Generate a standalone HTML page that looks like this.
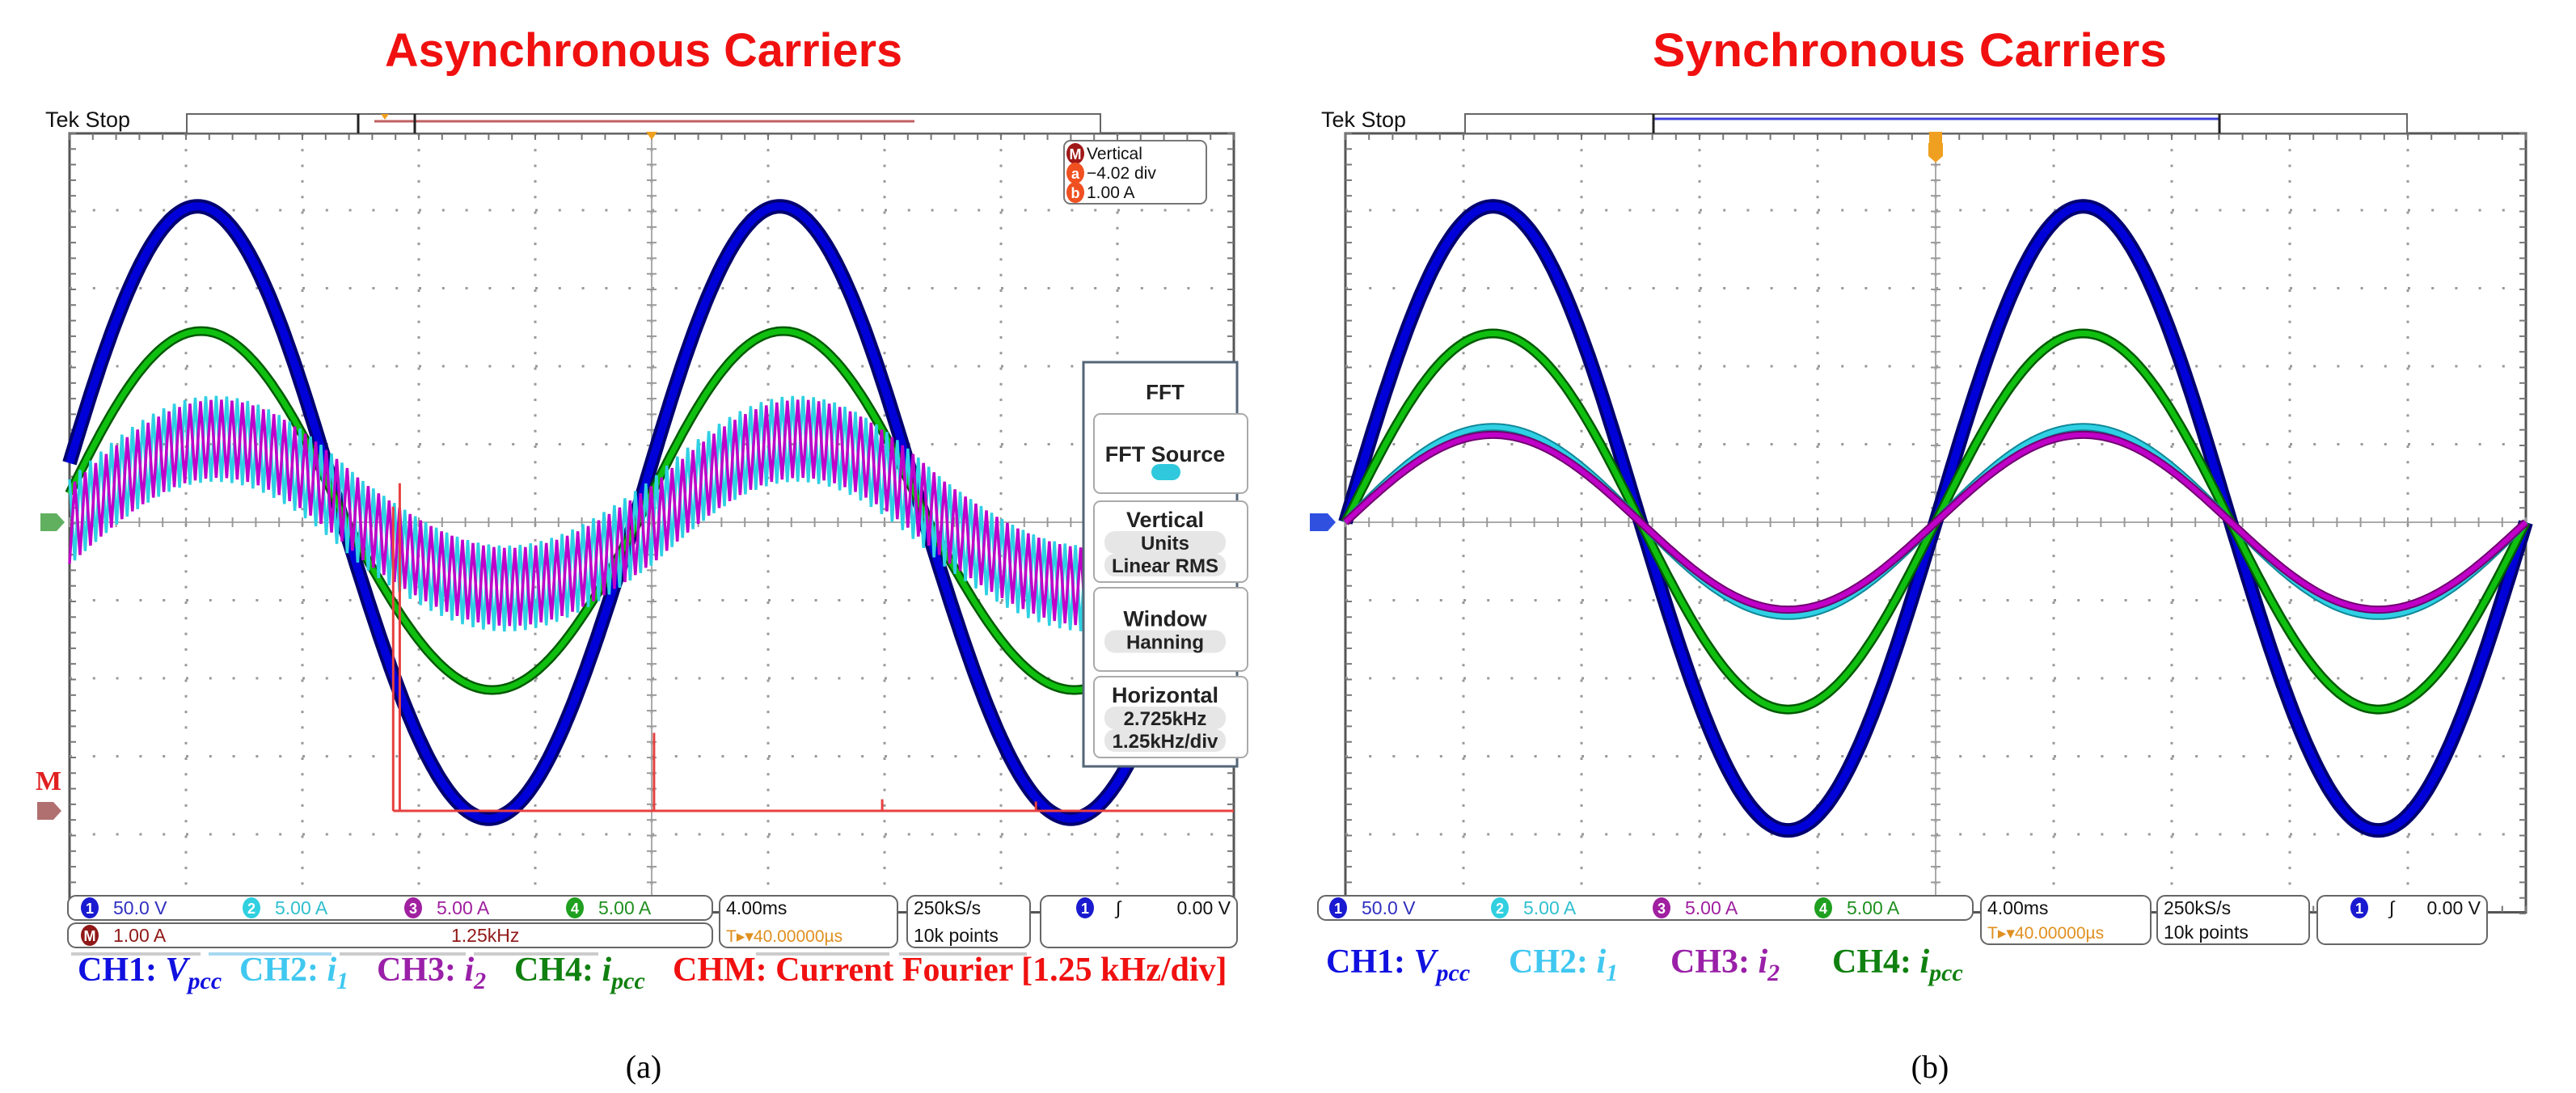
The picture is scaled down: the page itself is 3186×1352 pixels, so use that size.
<!DOCTYPE html>
<html><head><meta charset="utf-8"><style>
html,body{margin:0;padding:0;background:#fff;}
svg{display:block;font-family:"Liberation Sans",sans-serif;}
</style></head><body>
<svg id="fig" xmlns="http://www.w3.org/2000/svg" width="3186" height="1352" viewBox="0 0 3186 1352">
<rect x="0" y="0" width="3186" height="1352" fill="#fff"/>
<text x="796" y="82" font-size="58" font-weight="bold" fill="#f01010" text-anchor="middle" textLength="640" lengthAdjust="spacingAndGlyphs">Asynchronous Carriers</text>
<text x="2362" y="82" font-size="58" font-weight="bold" fill="#f01010" text-anchor="middle" textLength="636" lengthAdjust="spacingAndGlyphs">Synchronous Carriers</text>
<g id="panelA"></g>
<g id="panelB"></g>
<text x="796" y="1333" font-size="40" font-family="Liberation Serif,serif" text-anchor="middle">(a)</text>
<text x="2387" y="1333" font-size="40" font-family="Liberation Serif,serif" text-anchor="middle">(b)</text>
</svg>
<script>
// ---- data (in divisions) ----
const channels = ['CH1','CH2','CH3','CH4'];
const periodDiv = 5;
const asyncPosAmp = [4.05, 1.07, 1.07, 2.45];
const asyncNegAmp = [3.8, 0.85, 0.83, 2.15];
const asyncPhase = [-0.15, 0.0, 0.03, -0.12];
const asyncRipple = [0.0, 0.55, 0.5, 0.0];
const syncPosAmp = [4.05, 1.22, 1.12, 2.42];
const syncNegAmp = [3.95, 1.2, 1.12, 2.4];
const syncPhase = [0, 0, 0, 0];
const fftFreqKHz = [-0.05, 0.02, 2.75, 5.2, 6.85];
const fftAmpDiv = [3.9, 4.2, 1.0, 0.15, 0.12];
const fftCenterKHz = 2.725;
const fftKHzPerDiv = 1.25;
const fftBaseDiv = -3.7;

const NS = 'http://www.w3.org/2000/svg';
const colors = ['#0000d8','#2fd0e4','#c000c8','#10c010'];
const edge = ['#000070','#108898','#700070','#005a00'];
function mk(tag, attrs, parent){const e=document.createElementNS(NS,tag);for(const k in attrs)e.setAttribute(k,attrs[k]);parent.appendChild(e);return e;}

const PA = {x0:86, div:144, cy:646, ydiv:96.5, top:165, g:document.getElementById('panelA')};
const PB = {x0:1664, div:146, cy:646, ydiv:96.5, top:165, g:document.getElementById('panelB')};
function X(p,d){return p.x0+d*p.div;}
function Y(p,v){return p.cy-v*p.ydiv;}

function grid(p){
  const g=p.g, w=10*p.div, bottom=p.cy+5*p.ydiv;
  const fr=mk('rect',{x:p.x0,y:p.top,width:w,height:bottom-p.top,fill:'none',stroke:'#555','stroke-width':3},g);
  
  
  for(let i=1;i<10;i++){
    const l=mk('line',{x1:X(p,i),x2:X(p,i),y1:p.top,y2:bottom,stroke:'#999','stroke-width':3,'stroke-dasharray':'3 '+(p.ydiv/5-3)},g);
    
    
  }
  for(let j=-4;j<=4;j++){
    if(j===0)continue;
    const l=mk('line',{x1:p.x0,x2:p.x0+w,y1:Y(p,j),y2:Y(p,j),stroke:'#999','stroke-width':3,'stroke-dasharray':'3 '+(p.div/5-3)},g);
    
    
  }
  const ax=mk('line',{x1:p.x0,x2:p.x0+w,y1:p.cy,y2:p.cy,stroke:'#aaa','stroke-width':2},g);
  
  
  const ay=mk('line',{x1:X(p,5),x2:X(p,5),y1:p.top,y2:bottom,stroke:'#aaa','stroke-width':2},g);
  
  
  for(let k=0;k<=50;k++){
    const x=p.x0+k*p.div/5;
    mk('line',{x1:x,x2:x,y1:p.cy-6,y2:p.cy+6,stroke:'#999','stroke-width':2},g);
    mk('line',{x1:x,x2:x,y1:p.top,y2:p.top+8,stroke:'#777','stroke-width':2},g);
    mk('line',{x1:x,x2:x,y1:bottom-8,y2:bottom,stroke:'#777','stroke-width':2},g);
  }
  for(let k=0;k<=50;k++){
    const y=p.top+k*p.ydiv/5;
    mk('line',{x1:X(p,5)-6,x2:X(p,5)+6,y1:y,y2:y,stroke:'#999','stroke-width':2},g);
    mk('line',{x1:p.x0,x2:p.x0+8,y1:y,y2:y,stroke:'#777','stroke-width':2},g);
    mk('line',{x1:p.x0+w-8,x2:p.x0+w,y1:y,y2:y,stroke:'#777','stroke-width':2},g);
  }
}

function wave(p,pos,neg,ph,rip,i,name){
  const pts=[];const step=rip>0?0.045:0.02;let n=0;
  for(let d=0;d<=10.0001;d+=step){
    const s=Math.sin(2*Math.PI*(d-ph)/periodDiv);
    let v=s>=0?pos*s:neg*s;
    if(rip>0){v+=(n%2===0?rip:-rip)*(i===2?-1:1);}
    pts.push(X(p,d).toFixed(1)+','+Y(p,v).toFixed(1));n++;
  }
  const grp=mk('g',{},p.g);
  
  
  if(rip>0){
    mk('polyline',{points:pts.join(' '),fill:'none',stroke:colors[i],'stroke-width':3.5,'stroke-linejoin':'miter'},grp);
  } else {
    const wE=i===0?18:(i===3?12:10), wI=i===0?10:(i===3?7:6);
    mk('polyline',{points:pts.join(' '),fill:'none',stroke:edge[i],'stroke-width':wE},grp);
    mk('polyline',{points:pts.join(' '),fill:'none',stroke:colors[i],'stroke-width':wI},grp);
  }
}

function topbar(p,sync){
  const g=p.g;
  const t=mk('text',{x:p.x0-30,y:p.top-8,'font-size':27,fill:'#111'},g);
  t.textContent='Tek Stop';
  
  
  const bx=sync?p.x0+148:p.x0+145, bw=sync?1165:1130;
  const b=mk('rect',{x:bx,y:p.top-24,width:bw,height:24,fill:'#fff',stroke:'#666','stroke-width':2},g);
  
  
  if(sync){
    mk('line',{x1:bx+233,x2:bx+933,y1:p.top-18,y2:p.top-18,stroke:'#4040e0','stroke-width':3},g);
    mk('path',{d:`M${bx+233},${p.top-24}v24M${bx+933},${p.top-24}v24`,stroke:'#222','stroke-width':3},g);
    const tm=mk('path',{d:`M${X(p,5)-8},${p.top-2} h16 v18 l-8,10 l-8,-10z`,fill:'#f0a020'},g);
    
    
    mk('path',{d:`M${X(p,5)-9},${p.top+12} h18 v16 l-9,8 l-9,-8z`,fill:'#f0a020'},g);
  } else {
    mk('line',{x1:bx+232,x2:bx+900,y1:p.top-15,y2:p.top-15,stroke:'#c06060','stroke-width':3},g);
    mk('path',{d:`M${bx+212},${p.top-24}v24M${bx+282},${p.top-24}v24`,stroke:'#222','stroke-width':3},g);
    mk('path',{d:`M${bx+240},${p.top-24}h10l-5,7z`,fill:'#f0a020'},g);
    const tm=mk('path',{d:`M${X(p,5)-7},${p.top-2}h14l-7,10z`,fill:'#f0a020'},g);
    
    
  }
}

function statusBoxes(p,specs){
  const g=p.g;
  specs.forEach(s=>{
    const r=mk('rect',{x:s[0],y:s[1],width:s[2],height:s[3],rx:10,fill:'#fff',stroke:'#666','stroke-width':2},g);
    
    
  });
}
function txt(g,x,y,str,size,fill,name,anchor){
  const t=mk('text',{x:x,y:y,'font-size':size,fill:fill,'text-anchor':anchor||'start'},g);
  t.textContent=str;
  
  
  return t;
}
function badge(g,x,y,label,fill,name){
  const c=mk('ellipse',{cx:x,cy:y,rx:11,ry:13,fill:fill},g);
  
  
  const t=mk('text',{x:x,y:y+7,'font-size':18,'font-weight':'bold',fill:'#fff','text-anchor':'middle'},g);
  t.textContent=label;
}
function legend(g,y,items){
  items.forEach(it=>{
    const t=mk('text',{x:it.x,y:y,'font-size':42,'font-weight':'bold','font-family':'Liberation Serif,serif',fill:it.c},g);
    
    
    const a=mk('tspan',{},t);a.textContent=it.a;
    if(it.v){const b=mk('tspan',{'font-style':'italic'},t);b.textContent=it.v;}
    if(it.s){const c=mk('tspan',{'font-style':'italic','font-size':30,dy:10},t);c.textContent=it.s;}
  });
}

// ===== Panel A =====
grid(PA);
wave(PA,asyncPosAmp[0],asyncNegAmp[0],asyncPhase[0],0,0,'trace-ch1-vpcc');
wave(PA,asyncPosAmp[3],asyncNegAmp[3],asyncPhase[3],0,3,'trace-ch4-ipcc');
wave(PA,asyncPosAmp[1],asyncNegAmp[1],asyncPhase[1],asyncRipple[1],1,'trace-ch2-i1');
wave(PA,asyncPosAmp[2],asyncNegAmp[2],asyncPhase[2],asyncRipple[2],2,'trace-ch3-i2');
// FFT trace
(function(){
  const p=PA, base=Y(p,fftBaseDiv);
  const fx=f=>X(p,5+(f-fftCenterKHz)/fftKHzPerDiv);
  let d=`M${fx(fftFreqKHz[0]).toFixed(1)},${base} H${X(p,10)}`;
  for(let k=0;k<fftFreqKHz.length;k++){
    const x=fx(fftFreqKHz[k]).toFixed(1);
    d+=` M${x},${base} V${Y(p,fftBaseDiv+fftAmpDiv[k]).toFixed(1)}`;
  }
  const f=mk('path',{d:d,stroke:'#e84040','stroke-width':3,fill:'none'},p.g);
  
  
  const m=txt(p.g,44,Y(p,fftBaseDiv)-26,'M',34,'#e02020','math-label');
  m.setAttribute('font-family','Liberation Serif,serif');m.setAttribute('font-weight','bold');
  const mm=mk('path',{d:`M46,${base-11}h20l10,11l-10,11h-20z`,fill:'#b07070'},p.g);
  
  
  const c4=mk('path',{d:`M50,${p.cy-11}h20l10,11l-10,11h-20z`,fill:'#60b060'},p.g);
  
  
})();
topbar(PA,false);
// vertical readout box
(function(){
  const g=PA.g;
  const r=mk('rect',{x:1316,y:174,width:176,height:78,rx:8,fill:'#fff',stroke:'#777','stroke-width':2},g);
  
  
  badge(g,1330,190,'M','#a01818','math-badge');
  txt(g,1344,197,'Vertical',21,'#111','readout-title');
  badge(g,1330,214,'a','#f05020','cursor-a-badge');
  txt(g,1344,221,'−4.02 div',21,'#111','cursor-a-value');
  badge(g,1330,238,'b','#f05020','cursor-b-badge');
  txt(g,1344,245,'1.00 A',21,'#111','cursor-b-value');
})();
// FFT menu
(function(){
  const g=PA.g;
  const m=mk('rect',{x:1340,y:448,width:190,height:500,fill:'#fff',stroke:'#556677','stroke-width':3},g);
  
  
  const tt=txt(g,1441,494,'FFT',26,'#222','fft-menu-title','middle');
  tt.setAttribute('font-weight','bold');
  const btns=[[512,610,'fft-source-button',['FFT Source']],[620,720,'vertical-units-button',['Vertical','Units','Linear RMS']],[727,830,'window-button',['Window','Hanning']],[837,937,'horizontal-button',['Horizontal','2.725kHz','1.25kHz/div']]];
  btns.forEach(b=>{
    const r=mk('rect',{x:1353,y:b[0],width:190,height:b[1]-b[0],rx:8,fill:'#fff',stroke:'#aaa','stroke-width':2},g);
    
    
    const n=b[3].length, y0=b[0]+(b[1]-b[0])/2-(n-1)*14+10;
    b[3].forEach((s,k)=>{
      if(k>0)mk('rect',{x:1366,y:y0+k*28-23,width:150,height:28,rx:13,fill:'#e6e6e6'},g);
      const t=txt(g,1441,y0+k*28,s,k>0?24:27,'#222',b[2]+'-text','middle');
      t.setAttribute('font-weight','600');
    });
    if(b[2]==='fft-source-button'){mk('rect',{x:1424,y:574,width:36,height:20,rx:10,fill:'#30c8dc'},g);}
  });
})();
// status bar A
statusBoxes(PA,[[84,1108,797,30,'channel-scale-row'],[84,1142,797,30,'math-scale-row'],[890,1108,220,64,'timebase-box'],[1122,1108,152,64,'sample-rate-box'],[1287,1108,243,64,'trigger-box']]);
(function(){
  const g=PA.g;
  badge(g,111,1123,'1','#1a1ad0','ch1-badge');txt(g,140,1131,'50.0 V',23,'#3030c0','ch1-scale');
  badge(g,311,1123,'2','#30d0e0','ch2-badge');txt(g,340,1131,'5.00 A',23,'#30c0d0','ch2-scale');
  badge(g,511,1123,'3','#a020a0','ch3-badge');txt(g,540,1131,'5.00 A',23,'#a020a0','ch3-scale');
  badge(g,711,1123,'4','#20a020','ch4-badge');txt(g,740,1131,'5.00 A',23,'#209020','ch4-scale');
  badge(g,111,1157,'M','#901818','math-badge-status');txt(g,140,1165,'1.00 A',23,'#901818','math-scale');
  txt(g,558,1165,'1.25kHz',23,'#901818','math-freq');
  txt(g,898,1131,'4.00ms',23,'#111','time-per-div');
  txt(g,898,1165,'T▸▾40.00000µs',21,'#e09020','trigger-position');
  txt(g,1130,1131,'250kS/s',23,'#111','sample-rate');
  txt(g,1130,1165,'10k points',23,'#111','record-length');
  badge(g,1342,1123,'1','#1a1ad0','trigger-source-badge');
  txt(g,1380,1131,'∫',23,'#111','trigger-slope');
  txt(g,1522,1131,'0.00 V',23,'#111','trigger-level','end');
  [[88,248],[258,410],[420,576],[586,740],[935,1100],[1112,1270]].forEach((s,k)=>{mk('rect',{x:s[0],y:1178,width:s[1]-s[0],height:4,fill:k===1?'#a8d8f0':'#ccc'},g);});
})();
legend(PA.g,1213,[
 {x:96,a:'CH1: ',v:'V',s:'pcc',c:'#1010e0',n:'legend-ch1'},
 {x:296,a:'CH2: ',v:'i',s:'1',c:'#40c8f0',n:'legend-ch2'},
 {x:466,a:'CH3: ',v:'i',s:'2',c:'#9a20a8',n:'legend-ch3'},
 {x:636,a:'CH4: ',v:'i',s:'pcc',c:'#108010',n:'legend-ch4'},
 {x:832,a:'CHM: Current Fourier [1.25 kHz/div]',c:'#f01010',n:'legend-chm'}
]);

// ===== Panel B =====
grid(PB);
wave(PB,syncPosAmp[0],syncNegAmp[0],syncPhase[0],0,0,'trace-ch1-vpcc');
wave(PB,syncPosAmp[3],syncNegAmp[3],syncPhase[3],0,3,'trace-ch4-ipcc');
wave(PB,syncPosAmp[1],syncNegAmp[1],syncPhase[1],0,1,'trace-ch2-i1');
wave(PB,syncPosAmp[2],syncNegAmp[2],syncPhase[2],0,2,'trace-ch3-i2');
(function(){
  const c1=mk('path',{d:`M1620,${PB.cy-11}h22l10,11l-10,11h-22z`,fill:'#3050e0'},PB.g);
  
  
})();
topbar(PB,true);
statusBoxes(PB,[[1630,1108,810,30,'channel-scale-row'],[2450,1108,210,60,'timebase-box'],[2668,1108,188,60,'sample-rate-box'],[2866,1108,210,60,'trigger-box']]);
(function(){
  const g=PB.g;
  badge(g,1655,1123,'1','#1a1ad0','ch1-badge');txt(g,1684,1131,'50.0 V',23,'#3030c0','ch1-scale');
  badge(g,1855,1123,'2','#30d0e0','ch2-badge');txt(g,1884,1131,'5.00 A',23,'#30c0d0','ch2-scale');
  badge(g,2055,1123,'3','#a020a0','ch3-badge');txt(g,2084,1131,'5.00 A',23,'#a020a0','ch3-scale');
  badge(g,2255,1123,'4','#20a020','ch4-badge');txt(g,2284,1131,'5.00 A',23,'#209020','ch4-scale');
  txt(g,2458,1131,'4.00ms',23,'#111','time-per-div');
  txt(g,2458,1161,'T▸▾40.00000µs',21,'#e09020','trigger-position');
  txt(g,2676,1131,'250kS/s',23,'#111','sample-rate');
  txt(g,2676,1161,'10k points',23,'#111','record-length');
  badge(g,2918,1123,'1','#1a1ad0','trigger-source-badge');
  txt(g,2955,1131,'∫',23,'#111','trigger-slope');
  txt(g,3068,1131,'0.00 V',23,'#111','trigger-level','end');
})();
legend(PB.g,1203,[
 {x:1640,a:'CH1: ',v:'V',s:'pcc',c:'#1010e0',n:'legend-ch1'},
 {x:1866,a:'CH2: ',v:'i',s:'1',c:'#40c8f0',n:'legend-ch2'},
 {x:2066,a:'CH3: ',v:'i',s:'2',c:'#9a20a8',n:'legend-ch3'},
 {x:2266,a:'CH4: ',v:'i',s:'pcc',c:'#108010',n:'legend-ch4'}
]);
</script>
</body></html>
